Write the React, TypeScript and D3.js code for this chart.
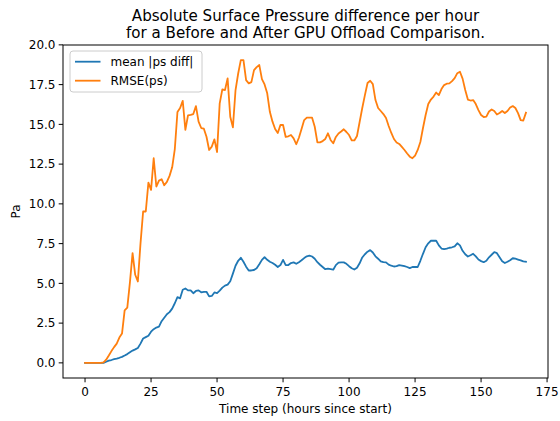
import React, { useEffect } from "react";
import * as d3 from "d3";

const meanDiff: number[] = [
  0, 0, 0, 0, 0, 0, 0, 0, 0.07, 0.14,
  0.18, 0.23, 0.27, 0.32, 0.38, 0.46, 0.55, 0.66, 0.77, 0.85,
  0.94, 1.21, 1.53, 1.62, 1.71, 1.96, 2.12, 2.22, 2.28, 2.62,
  2.84, 3.06, 3.19, 3.41, 3.75, 4.13, 4.06, 4.6, 4.68, 4.56,
  4.56, 4.38, 4.52, 4.56, 4.44, 4.47, 4.47, 4.18, 4.21, 4.43,
  4.39, 4.54, 4.73, 4.86, 4.92, 5.13, 5.61, 6.11, 6.42, 6.61,
  6.36, 6.05, 5.81, 5.81, 5.84, 5.95, 6.2, 6.48, 6.65, 6.48,
  6.36, 6.28, 6.17, 6.03, 6.15, 6.48, 6.15, 6.15, 6.28, 6.32,
  6.23, 6.33, 6.45, 6.59, 6.7, 6.74, 6.69, 6.55, 6.33, 6.17,
  6.03, 5.89, 5.92, 5.89, 5.86, 6.15, 6.3, 6.32, 6.32, 6.23,
  6.08, 5.95, 5.87, 5.98, 6.26, 6.63, 6.83, 6.99, 7.09, 6.94,
  6.7, 6.55, 6.38, 6.33, 6.32, 6.18, 6.11, 6.06, 6.08, 6.15,
  6.12, 6.08, 6.03, 5.96, 6.03, 6.03, 6.03, 6.42, 6.86, 7.27,
  7.52, 7.68, 7.68, 7.68, 7.39, 7.19, 7.16, 7.19, 7.24, 7.27,
  7.33, 7.52, 7.39, 7.05, 6.83, 6.69, 6.77, 6.86, 6.7, 6.5,
  6.4, 6.33, 6.42, 6.64, 6.8, 6.97, 6.9, 6.64, 6.39, 6.28,
  6.36, 6.45, 6.58, 6.55, 6.5, 6.45, 6.38, 6.36,
];

const rmse: number[] = [
  0, 0, 0, 0, 0, 0, 0, 0.03, 0.2, 0.46,
  0.74, 0.99, 1.21, 1.59, 1.84, 3.3, 3.47, 5.06, 6.9, 5.54,
  5.12, 7.5, 9.52, 9.52, 11.34, 10.88, 12.87, 11.09, 11.46, 11.55,
  11.17, 11.38, 11.76, 12.3, 13.45, 15.78, 16.03, 16.48, 14.65, 15.57,
  15.6, 15.65, 16.15, 15.17, 14.77, 14.73, 14.22, 13.39, 13.6, 14.06,
  13.26, 16.32, 17.2, 17.16, 17.89, 15.48, 14.81, 17.16, 18.2, 19.04,
  19.04, 17.78, 17.58, 17.66, 18.41, 18.6, 18.73, 17.85, 17.51, 16.95,
  15.79, 15.17, 14.71, 14.46, 14.96, 14.96, 14.21, 14.25, 14.33, 14.12,
  13.75, 14.16, 14.71, 15.27, 15.42, 15.42, 15.42, 14.85, 13.87, 13.87,
  13.95, 14.08, 14.44, 14.02, 13.81, 14.21, 14.43, 14.55, 14.69, 14.52,
  14.33, 13.99, 13.99, 14.27, 15.15, 16.03, 16.84, 17.6, 17.74, 17.53,
  16.53, 16.03, 15.84, 15.65, 15.4, 14.9, 14.46, 14.08, 13.86, 13.77,
  13.58, 13.39, 13.17, 12.97, 12.87, 13.04, 13.39, 13.89, 14.77, 15.59,
  16.28, 16.56, 16.75, 17.0, 16.84, 17.22, 17.47, 17.56, 17.58, 17.72,
  17.91, 18.22, 18.31, 17.88, 17.16, 16.56, 16.5, 16.53, 16.28, 15.9,
  15.59, 15.46, 15.49, 15.81, 15.94, 15.84, 15.62, 15.71, 15.84, 15.71,
  15.84, 16.06, 16.15, 16.03, 15.71, 15.27, 15.24, 15.73,
];

const seriesNames: string[] = ["mean |ps diff|", "RMSE(ps)"];
const seriesColors: string[] = ["#1f77b4", "#ff7f0e"];
const xTicks: number[] = [0, 25, 50, 75, 100, 125, 150, 175];
const yTicks: number[] = [0, 2.5, 5, 7.5, 10, 12.5, 15, 17.5, 20];
const titleLines: string[] = [
  "Absolute Surface Pressure difference per hour",
  "for a Before and After GPU Offload Comparison.",
];
const xLabel = "Time step (hours since start)";
const yLabel = "Pa";

const W = 560;
const H = 421;
const M = { left: 63, right: 548, top: 45, bottom: 378 };
const FONT = "DejaVu Sans, sans-serif";

export default function App() {
  useEffect(() => {
    document.body.style.margin = "0";
  }, []);

  const n = rmse.length;
  const xMax = n - 1;
  const xPad = xMax * 0.05;
  const x = d3.scaleLinear().domain([-xPad, xMax + xPad]).range([M.left, M.right]);
  const allMax = d3.max([...rmse, ...meanDiff]) as number;
  const allMin = d3.min([...rmse, ...meanDiff]) as number;
  const yPad = (allMax - allMin) * 0.05;
  const y = d3.scaleLinear().domain([allMin - yPad, allMax + yPad]).range([M.bottom, M.top]);

  const line = d3
    .line<number>()
    .x((_, i) => x(i))
    .y((d) => y(d));

  const series = [meanDiff, rmse];

  const lgX = 70;
  const lgY = 51;

  return (
    <svg
      width={W}
      height={H}
      style={{ position: "absolute", left: 0, top: 0, background: "#fff" }}
      fontFamily={FONT}
    >
      <rect x={0} y={0} width={W} height={H} fill="#fff" />
      {titleLines.map((t, i) => (
        <text
          key={t}
          x={(M.left + M.right) / 2}
          y={21 + i * 17}
          textAnchor="middle"
          fontSize={15.1}
          fill="#000"
        >
          {t}
        </text>
      ))}

      <defs>
        <clipPath id="plotclip">
          <rect x={M.left} y={M.top} width={M.right - M.left} height={M.bottom - M.top} />
        </clipPath>
      </defs>

      <g clipPath="url(#plotclip)">
        {series.map((s, i) => (
          <path
            key={i}
            d={line(s) || ""}
            fill="none"
            stroke={seriesColors[i]}
            strokeWidth={1.8}
            strokeLinejoin="round"
            strokeLinecap="square"
          />
        ))}
      </g>

      <rect
        x={M.left}
        y={M.top}
        width={M.right - M.left}
        height={M.bottom - M.top}
        fill="none"
        stroke="#000"
        strokeWidth={1}
      />

      {xTicks.map((t) => (
        <g key={"x" + t}>
          <line x1={x(t)} x2={x(t)} y1={M.bottom} y2={M.bottom + 4.3} stroke="#000" strokeWidth={1} />
          <text x={x(t)} y={M.bottom + 18} textAnchor="middle" fontSize={12} fill="#000">
            {String(t)}
          </text>
        </g>
      ))}
      {yTicks.map((t) => (
        <g key={"y" + t}>
          <line x1={M.left - 4.3} x2={M.left} y1={y(t)} y2={y(t)} stroke="#000" strokeWidth={1} />
          <text
            x={M.left - 7.5}
            y={y(t)}
            dy="0.35em"
            textAnchor="end"
            fontSize={12}
            fill="#000"
          >
            {d3.format(".1f")(t)}
          </text>
        </g>
      ))}

      <text x={(M.left + M.right) / 2} y={413} textAnchor="middle" fontSize={12} fill="#000">
        {xLabel}
      </text>
      <text
        transform={`translate(20, ${(M.top + M.bottom) / 2}) rotate(-90)`}
        textAnchor="middle"
        fontSize={12}
        fill="#000"
      >
        {yLabel}
      </text>

      <g>
        <rect
          x={lgX}
          y={lgY}
          width={132}
          height={41}
          rx={3}
          fill="#fff"
          fillOpacity={0.8}
          stroke="#ccc"
          strokeWidth={1}
        />
        {seriesNames.map((name, i) => (
          <g key={name}>
            <line
              x1={lgX + 5}
              x2={lgX + 30.5}
              y1={lgY + 10.7 + i * 19}
              y2={lgY + 10.7 + i * 19}
              stroke={seriesColors[i]}
              strokeWidth={1.8}
            />
            <text x={lgX + 40.5} y={lgY + 10.7 + i * 19} dy="0.35em" fontSize={12} fill="#000">
              {name}
            </text>
          </g>
        ))}
      </g>
    </svg>
  );
}
